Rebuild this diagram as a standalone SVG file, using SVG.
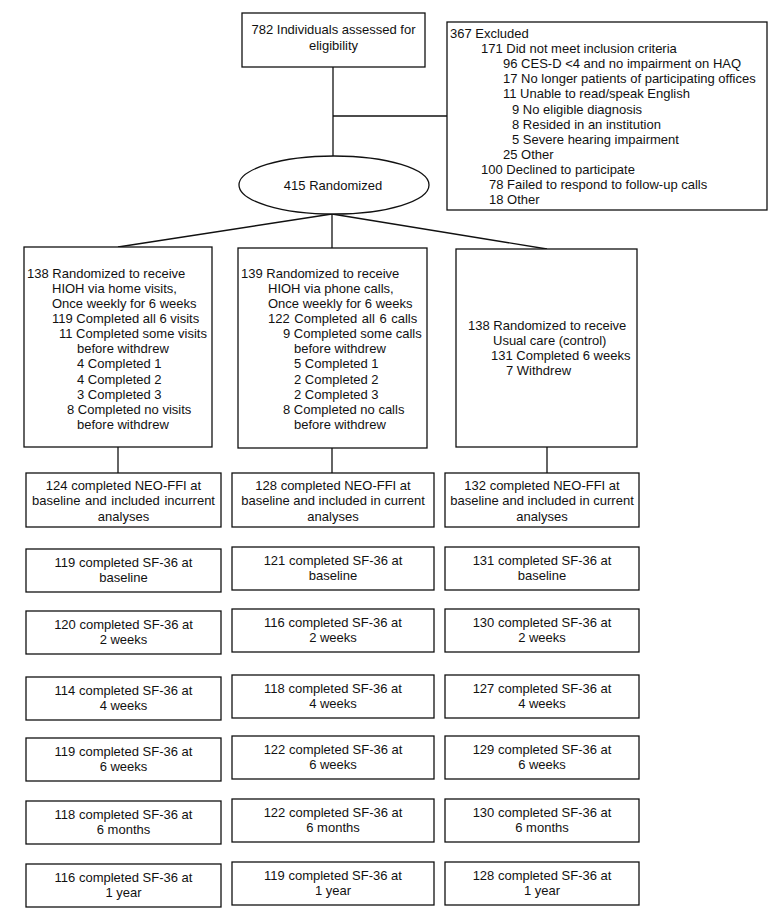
<svg xmlns="http://www.w3.org/2000/svg" width="775" height="915" viewBox="0 0 775 915">
<style>
.box{fill:#fff;stroke:#111;stroke-width:1.3}
.ln{stroke:#111;stroke-width:1.3;fill:none}
.t{font-family:"Liberation Sans",Arial,Helvetica,sans-serif;font-size:13px;fill:#111}
.c{text-anchor:middle}
</style>
<rect width="775" height="915" fill="#fff"/>
<g id="connectors">
<line class="ln" x1="333" y1="67" x2="333" y2="156"/>
<line class="ln" x1="333" y1="116" x2="447" y2="116"/>
<line class="ln" x1="332" y1="214" x2="118" y2="247"/>
<line class="ln" x1="332" y1="214" x2="332" y2="248"/>
<line class="ln" x1="332" y1="214" x2="547" y2="249"/>
<line class="ln" x1="118" y1="447" x2="118" y2="473"/>
<line class="ln" x1="332" y1="448" x2="332" y2="473"/>
<line class="ln" x1="547" y1="447" x2="547" y2="473"/>
</g>
<g id="assessed">
<rect class="box" x="242" y="13" width="183" height="54"/>
<text class="t c" x="333.5" y="34">782 Individuals assessed for</text>
<text class="t c" x="333.5" y="50">eligibility</text>
</g>
<g id="excluded">
<rect class="box" x="447" y="22" width="320" height="188"/>
<text class="t" x="450" y="38">367 Excluded</text>
<text class="t" x="481" y="53">171 Did not meet inclusion criteria</text>
<text class="t" x="503" y="68">96 CES-D &lt;4 and no impairment on HAQ</text>
<text class="t" x="503" y="83">17 No longer patients of participating offices</text>
<text class="t" x="503" y="98">11 Unable to read/speak English</text>
<text class="t" x="512" y="114">9 No eligible diagnosis</text>
<text class="t" x="512" y="129">8 Resided in an institution</text>
<text class="t" x="512" y="144">5 Severe hearing impairment</text>
<text class="t" x="503" y="159">25 Other</text>
<text class="t" x="481" y="174">100 Declined to participate</text>
<text class="t" x="489" y="189">78 Failed to respond to follow-up calls</text>
<text class="t" x="489" y="204">18 Other</text>
</g>
<g id="randomized">
<ellipse class="box" cx="334" cy="185" rx="95" ry="29"/>
<text class="t c" x="333" y="190">415 Randomized</text>
</g>
<g id="arm-home">
<rect class="box" x="24" y="247" width="188" height="200"/>
<text class="t" x="27" y="277.5">138 Randomized to receive</text>
<text class="t" x="52" y="292.7">HIOH via home visits,</text>
<text class="t" x="52" y="307.8">Once weekly for 6 weeks</text>
<text class="t" x="52" y="323">119 Completed all 6 visits</text>
<text class="t" x="59" y="338.1">11 Completed some visits</text>
<text class="t" x="77" y="353.3">before withdrew</text>
<text class="t" x="77" y="368.4">4 Completed 1</text>
<text class="t" x="77" y="383.6">4 Completed 2</text>
<text class="t" x="77" y="398.7">3 Completed 3</text>
<text class="t" x="67" y="413.9">8 Completed no visits</text>
<text class="t" x="77" y="429">before withdrew</text>
</g>
<g id="arm-phone">
<rect class="box" x="238" y="248" width="189" height="200"/>
<text class="t" x="241" y="277.5">139 Randomized to receive</text>
<text class="t" x="268" y="292.7">HIOH via phone calls,</text>
<text class="t" x="268" y="307.8">Once weekly for 6 weeks</text>
<text class="t" x="268" y="323" word-spacing="1">122 Completed all 6 calls</text>
<text class="t" x="283" y="338.1">9 Completed some calls</text>
<text class="t" x="294" y="353.3">before withdrew</text>
<text class="t" x="294" y="368.4">5 Completed 1</text>
<text class="t" x="294" y="383.6">2 Completed 2</text>
<text class="t" x="294" y="398.7">2 Completed 3</text>
<text class="t" x="283" y="413.9">8 Completed no calls</text>
<text class="t" x="294" y="429">before withdrew</text>
</g>
<g id="arm-usual">
<rect class="box" x="456" y="249" width="181" height="198"/>
<text class="t" x="468" y="329.7">138 Randomized to receive</text>
<text class="t" x="493" y="344.8">Usual care (control)</text>
<text class="t" x="491" y="360">131 Completed 6 weeks</text>
<text class="t" x="506" y="375">7 Withdrew</text>
</g>
<g id="neo-home">
<rect class="box" x="26" y="473" width="195" height="54"/>
<text class="t c" x="123.5" y="490">124 completed NEO-FFI at</text>
<text class="t c" x="123.5" y="505" word-spacing="1">baseline and included incurrent</text>
<text class="t c" x="123.5" y="520.5">analyses</text>
</g>
<g id="neo-phone">
<rect class="box" x="232" y="473" width="202" height="54"/>
<text class="t c" x="333" y="490">128 completed NEO-FFI at</text>
<text class="t c" x="333" y="505">baseline and included in current</text>
<text class="t c" x="333" y="520.5">analyses</text>
</g>
<g id="neo-usual">
<rect class="box" x="445" y="473" width="194" height="54"/>
<text class="t c" x="542" y="490">132 completed NEO-FFI at</text>
<text class="t c" x="542" y="505">baseline and included in current</text>
<text class="t c" x="542" y="520.5">analyses</text>
</g>
<g id="sf-home-baseline"><rect class="box" x="26" y="549" width="195" height="43"/><text class="t c" x="123.5" y="567">119 completed SF-36 at</text><text class="t c" x="123.5" y="582">baseline</text></g>
<g id="sf-home-2w"><rect class="box" x="26" y="611" width="195" height="43"/><text class="t c" x="123.5" y="629">120 completed SF-36 at</text><text class="t c" x="123.5" y="644">2 weeks</text></g>
<g id="sf-home-4w"><rect class="box" x="26" y="677" width="195" height="43"/><text class="t c" x="123.5" y="695">114 completed SF-36 at</text><text class="t c" x="123.5" y="710">4 weeks</text></g>
<g id="sf-home-6w"><rect class="box" x="26" y="738" width="195" height="43"/><text class="t c" x="123.5" y="756">119 completed SF-36 at</text><text class="t c" x="123.5" y="771">6 weeks</text></g>
<g id="sf-home-6m"><rect class="box" x="26" y="801" width="195" height="43"/><text class="t c" x="123.5" y="819">118 completed SF-36 at</text><text class="t c" x="123.5" y="834">6 months</text></g>
<g id="sf-home-1y"><rect class="box" x="26" y="864" width="195" height="43"/><text class="t c" x="123.5" y="882">116 completed SF-36 at</text><text class="t c" x="123.5" y="897">1 year</text></g>
<g id="sf-phone-baseline"><rect class="box" x="232" y="547" width="202" height="43"/><text class="t c" x="333" y="565">121 completed SF-36 at</text><text class="t c" x="333" y="580">baseline</text></g>
<g id="sf-phone-2w"><rect class="box" x="232" y="609" width="202" height="43"/><text class="t c" x="333" y="627">116 completed SF-36 at</text><text class="t c" x="333" y="642">2 weeks</text></g>
<g id="sf-phone-4w"><rect class="box" x="232" y="675" width="202" height="43"/><text class="t c" x="333" y="693">118 completed SF-36 at</text><text class="t c" x="333" y="708">4 weeks</text></g>
<g id="sf-phone-6w"><rect class="box" x="232" y="736" width="202" height="43"/><text class="t c" x="333" y="754">122 completed SF-36 at</text><text class="t c" x="333" y="769">6 weeks</text></g>
<g id="sf-phone-6m"><rect class="box" x="232" y="799" width="202" height="43"/><text class="t c" x="333" y="817">122 completed SF-36 at</text><text class="t c" x="333" y="832">6 months</text></g>
<g id="sf-phone-1y"><rect class="box" x="232" y="862" width="202" height="43"/><text class="t c" x="333" y="880">119 completed SF-36 at</text><text class="t c" x="333" y="895">1 year</text></g>
<g id="sf-usual-baseline"><rect class="box" x="445" y="547" width="194" height="43"/><text class="t c" x="542" y="565">131 completed SF-36 at</text><text class="t c" x="542" y="580">baseline</text></g>
<g id="sf-usual-2w"><rect class="box" x="445" y="609" width="194" height="43"/><text class="t c" x="542" y="627">130 completed SF-36 at</text><text class="t c" x="542" y="642">2 weeks</text></g>
<g id="sf-usual-4w"><rect class="box" x="445" y="675" width="194" height="43"/><text class="t c" x="542" y="693">127 completed SF-36 at</text><text class="t c" x="542" y="708">4 weeks</text></g>
<g id="sf-usual-6w"><rect class="box" x="445" y="736" width="194" height="43"/><text class="t c" x="542" y="754">129 completed SF-36 at</text><text class="t c" x="542" y="769">6 weeks</text></g>
<g id="sf-usual-6m"><rect class="box" x="445" y="799" width="194" height="43"/><text class="t c" x="542" y="817">130 completed SF-36 at</text><text class="t c" x="542" y="832">6 months</text></g>
<g id="sf-usual-1y"><rect class="box" x="445" y="862" width="194" height="43"/><text class="t c" x="542" y="880">128 completed SF-36 at</text><text class="t c" x="542" y="895">1 year</text></g>
</svg>
